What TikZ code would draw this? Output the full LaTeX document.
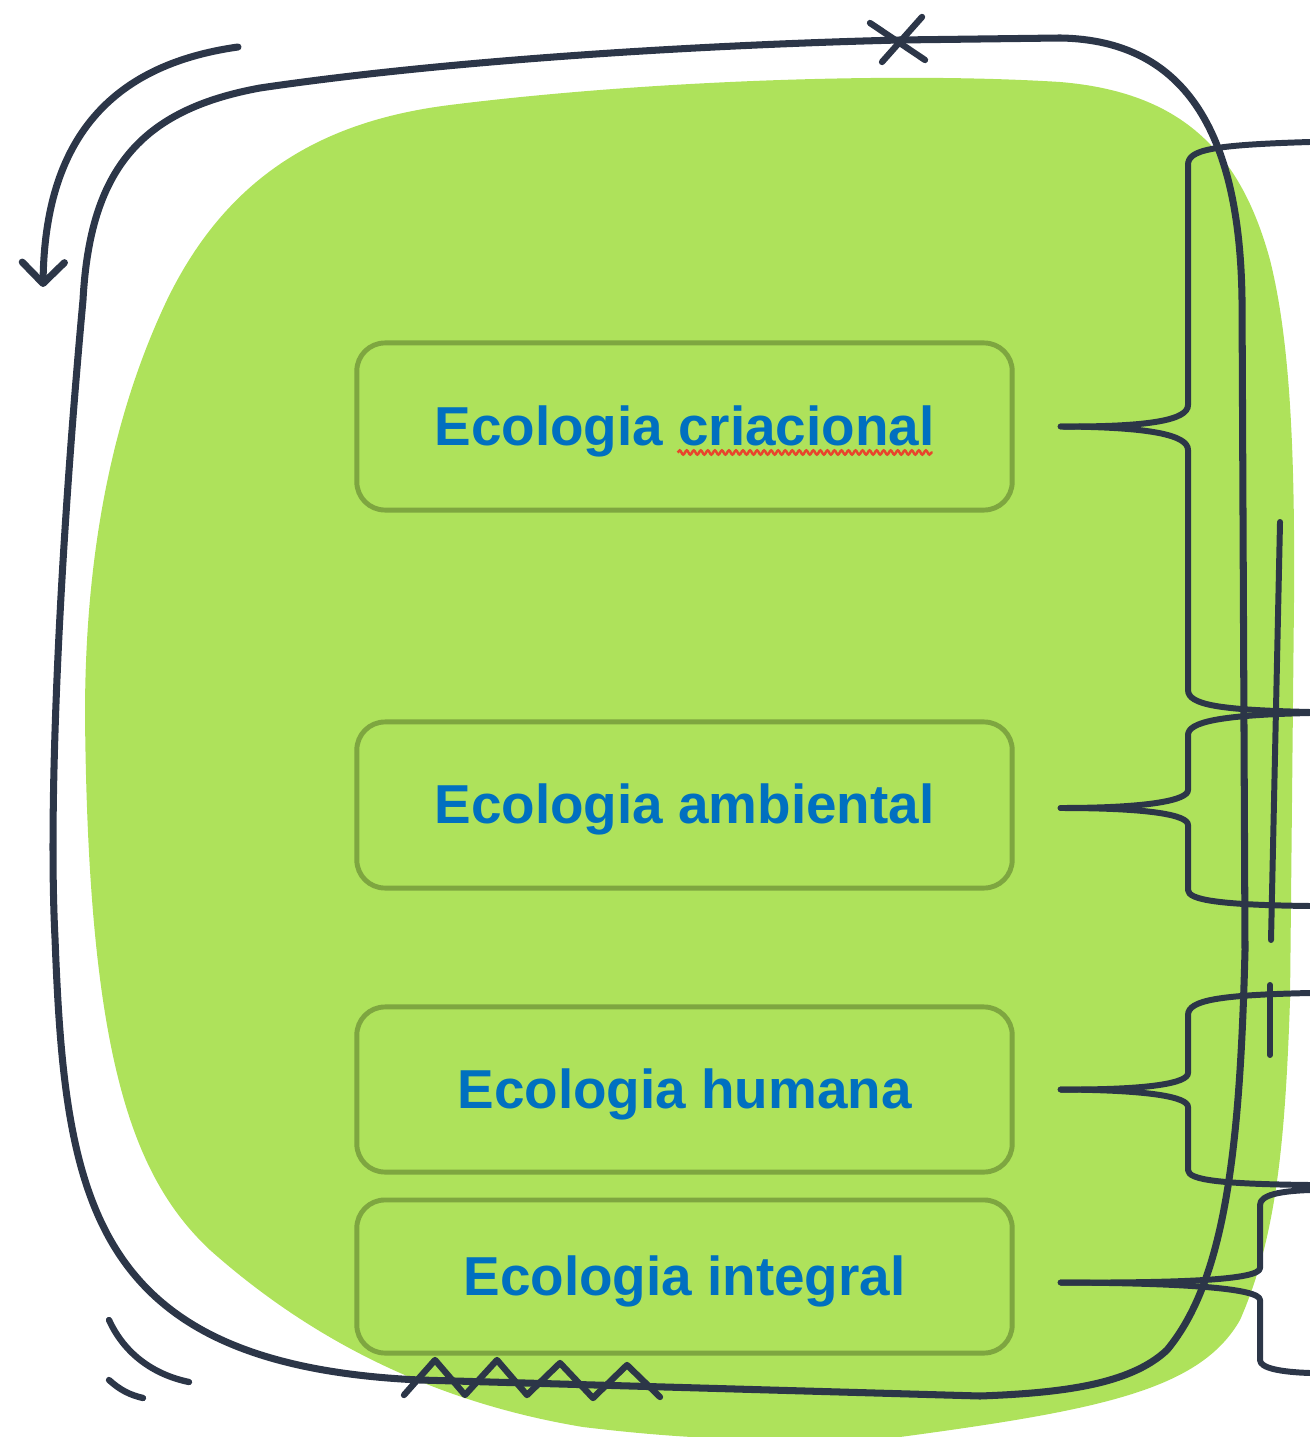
\documentclass[tikz,border=0pt]{standalone}
\usepackage{fontspec}
\setmainfont{Liberation Sans}
\usetikzlibrary{arrows.meta,calc,decorations.pathmorphing}
\definecolor{leaf}{RGB}{174,226,91}
\definecolor{boxrim}{RGB}{126,166,64}
\definecolor{slate}{RGB}{44,54,72}
\definecolor{ecoblue}{RGB}{0,112,192}
\definecolor{spellred}{RGB}{232,69,44}

\begin{document}
\begin{tikzpicture}[x=0.01cm, y=-0.01cm,
  sketch/.style = {draw=slate, line width=2pt, line cap=round, line join=round},
  bracket/.style = {sketch, line width=1.7pt},
  ecobox/.style = {shape=rectangle, rounded corners=8pt, draw=boxrim,
    line width=1.4pt, fill=leaf, minimum width=6.55cm, text=ecoblue,
    text depth=0.6pt, font=\fontsize{15.6}{18}\selectfont\bfseries}]
  \useasboundingbox (0,0) rectangle (1310,1437);
  \fill[leaf] (85,715) .. controls (85,560) and (110,420) .. (167,300)
    .. controls (230,170) and (330,120) .. (450,105)
    .. controls (650,80) and (900,72) .. (1060,82)
    .. controls (1180,92) and (1240,150) .. (1270,260)
    .. controls (1290,340) and (1295,450) .. (1294,600) -- (1290,1000)
    .. controls (1285,1150) and (1275,1240) .. (1240,1320)
    .. controls (1200,1390) and (1100,1410) .. (900,1437)
    .. controls (750,1445) and (650,1435) .. (583,1427)
    .. controls (420,1400) and (300,1330) .. (210,1250)
    .. controls (130,1175) and (88,1050) .. (85,715) -- cycle;

  \node[ecobox, minimum height=1.67cm] (cria) at (684.5,426.5) {Ecologia criacional};
  \node[ecobox, minimum height=1.66cm] (amb) at (684.5,805) {Ecologia ambiental};
  \node[ecobox, minimum height=1.65cm] (hum) at (684.5,1089.5) {Ecologia humana};
  \node[ecobox, minimum height=1.53cm] (integ) at (684.5,1276.5) {Ecologia integral};
  \draw[spellred, line width=0.7pt, decorate,
    decoration={snake, amplitude=0.6pt, segment length=2pt}]
    ($(cria.center)+(-7,26)$) -- ($(cria.center)+(248,26)$);

  \draw[sketch] (83,300) .. controls (90,170) and (140,110) .. (260,88)
    .. controls (450,60) and (700,45) .. (900,40) -- (1060,38)
    .. controls (1190,40) and (1240,140) .. (1242,300) -- (1245,950)
    .. controls (1240,1150) and (1225,1280) .. (1167,1350)
    .. controls (1130,1385) and (1060,1393) .. (980,1396) -- (420,1380)
    .. controls (90,1365) and (65,1200) .. (55,938)
    .. controls (48,800) and (60,550) .. (83,300) -- cycle;
  \draw[sketch, -{Straight Barb[length=6pt,width=12pt,round]}]
    (238,47) .. controls (110,65) and (45,140) .. (43,287);
  \draw[sketch, line width=1.8pt] (870,23) -- (925,60) (922,17) -- (882,62);
  \draw[sketch, line width=1.8pt] (404,1395) -- (435,1360) -- (465,1395)
    -- (497,1360) -- (527,1395) -- (560,1363) -- (593,1398) -- (627,1365) -- (660,1397);
  \draw[sketch, line width=1.8pt] (109,1320) .. controls (125,1355) and (155,1375) .. (189,1382);
  \draw[sketch, line width=1.8pt] (109,1380) .. controls (120,1390) and (130,1395) .. (143,1398);

  \coordinate (t1) at ($(cria.east)+(46,0)$);
  \coordinate (t2) at ($(amb.east)+(46,3)$);
  \coordinate (t3) at ($(hum.east)+(46,0)$);
  \coordinate (t4) at ($(integ.east)+(46,6)$);
  \draw[bracket] (t1) .. controls (1150,427) and (1188,420) .. (1188,405) -- (1188,165)
    .. controls (1188,150) and (1210,145) .. (1310,142);
  \draw[bracket] (t1) .. controls (1150,427) and (1188,435) .. (1188,450) -- (1188,690)
    .. controls (1188,705) and (1220,710) .. (1310,712);
  \draw[bracket] (t2) .. controls (1150,808) and (1188,800) .. (1188,790) -- (1188,735)
    .. controls (1188,722) and (1220,715) .. (1310,713);
  \draw[bracket] (t2) .. controls (1150,808) and (1188,815) .. (1188,825) -- (1188,890)
    .. controls (1188,900) and (1220,905) .. (1310,906);
  \draw[bracket] (t3) .. controls (1150,1090) and (1188,1083) .. (1188,1073) -- (1188,1015)
    .. controls (1188,1000) and (1220,995) .. (1310,993);
  \draw[bracket] (t3) .. controls (1150,1090) and (1188,1097) .. (1188,1107) -- (1188,1170)
    .. controls (1188,1180) and (1220,1184) .. (1310,1185);
  \draw[bracket] (t4) .. controls (1180,1283) and (1260,1280) .. (1260,1268) -- (1260,1205)
    .. controls (1260,1195) and (1280,1191) .. (1310,1190);
  \draw[bracket] (t4) .. controls (1180,1283) and (1260,1288) .. (1260,1300) -- (1260,1360)
    .. controls (1260,1368) and (1280,1372) .. (1310,1373);
  \draw[bracket] (1280,522) -- (1271,940);
  \draw[bracket] (1270,985) -- (1270,1055);
\end{tikzpicture}
\end{document}
